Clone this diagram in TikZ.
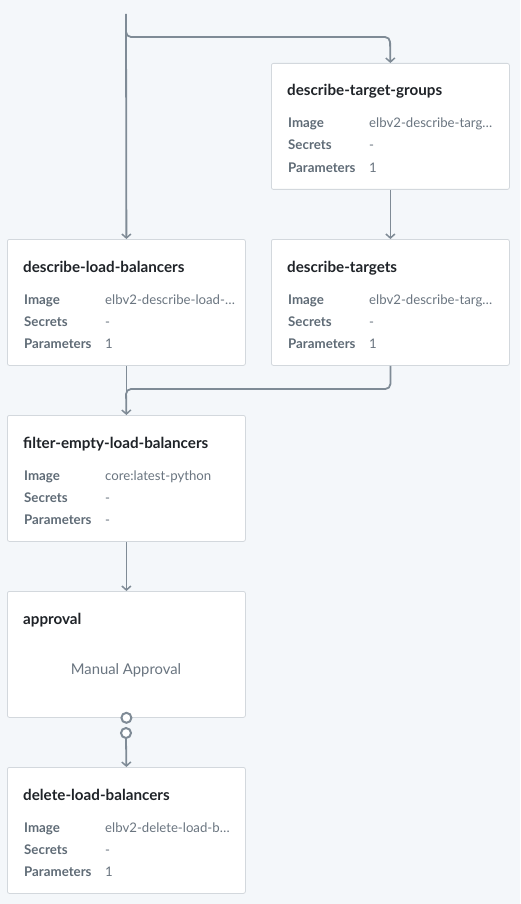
\documentclass[tikz,border=0pt]{standalone}
\usepackage{fontspec}
\setmainfont{Lato}
\usetikzlibrary{arrows.meta,positioning}
\definecolor{bg}{HTML}{F4F7FA}
\definecolor{boxline}{HTML}{D3D8DD}
\definecolor{conn}{HTML}{7F8B96}
\definecolor{titlec}{HTML}{1F2328}
\definecolor{labelc}{HTML}{5F6B76}
\definecolor{valc}{HTML}{6A7580}
\tikzset{
  card/.style={draw=boxline, fill=white, rounded corners=2pt, line width=0.8pt,
    minimum width=238pt, minimum height=126pt, inner sep=0pt, anchor=north west},
  ttl/.style={anchor=base west, inner sep=0pt, font=\fontsize{15.2}{17}\selectfont\bfseries, text=titlec},
  lbl/.style={anchor=base west, inner sep=0pt, font=\fontsize{13.3}{15}\selectfont\bfseries, text=labelc},
  val/.style={anchor=base west, inner sep=0pt, font=\fontsize{13.2}{15}\selectfont, text=valc},
  wire/.style={draw=conn, line width=1.8pt, rounded corners=5pt},
  arr/.style={wire, -{Straight Barb[length=4pt,width=9pt,line width=1.5pt]}},
  ring/.style={circle, draw=conn, fill=white, line width=2pt, minimum size=10pt, inner sep=0pt}
}
\newcommand{\stepcard}[6]{%
  \node[card] (#1) at (#2,#3) {};
  \node[ttl] (#1-t) at (#2+16,#3+33) {#4};
  \node[lbl] (#1-il) at (#2+17,#3+65) {Image};
  \node[lbl] (#1-sl) at (#2+17,#3+87) {Secrets};
  \node[lbl] (#1-pl) at (#2+17,#3+109) {Parameters};
  \node[val] (#1-iv) at (#2+98,#3+65) {#5};
  \node[val] (#1-sv) at (#2+98,#3+87) {-};
  \node[val] (#1-pv) at (#2+98,#3+109) {#6};
}
\begin{document}
\begin{tikzpicture}[x=1pt,y=-1pt]
\fill[bg] (0,0) rectangle (520,904);
\useasboundingbox (0,0) rectangle (520,904);

\stepcard{dtg}{271}{63}{describe-target-groups}{elbv2-describe-targ…}{1}
\stepcard{dlb}{7}{239}{describe-load-balancers}{elbv2-describe-load-…}{1}
\stepcard{dt}{271}{239}{describe-targets}{elbv2-describe-targ…}{1}
\stepcard{fel}{7}{415}{filter-empty-load-balancers}{core:latest-python}{-}
\node[card] (ap) at (7,591) {};
\node[ttl] (ap-t) at (23,624) {approval};
\node[val, anchor=base] (ap-m) at (126,674) {\fontsize{14.8}{17}\selectfont Manual Approval};
\stepcard{del}{7}{767}{delete-load-balancers}{elbv2-delete-load-b…}{1}

\coordinate (start) at (126,14);
\draw[arr] (start) -- (dlb.north);
\draw[arr] (126,30) |- (390,37) -- (dtg.north);
\draw[arr] (dtg.south) -- (dt.north);
\draw[wire] (dlb.south) -- (fel.north);
\draw[arr] (dt.south) |- (126,389) -- (fel.north);
\draw[arr] (fel.south) -- (ap.north);
\node[ring] (r1) at (ap.south) {};
\node[ring] (r2) at (126,733) {};
\draw[arr] (r2.south) -- (del.north);
\end{tikzpicture}
\end{document}
